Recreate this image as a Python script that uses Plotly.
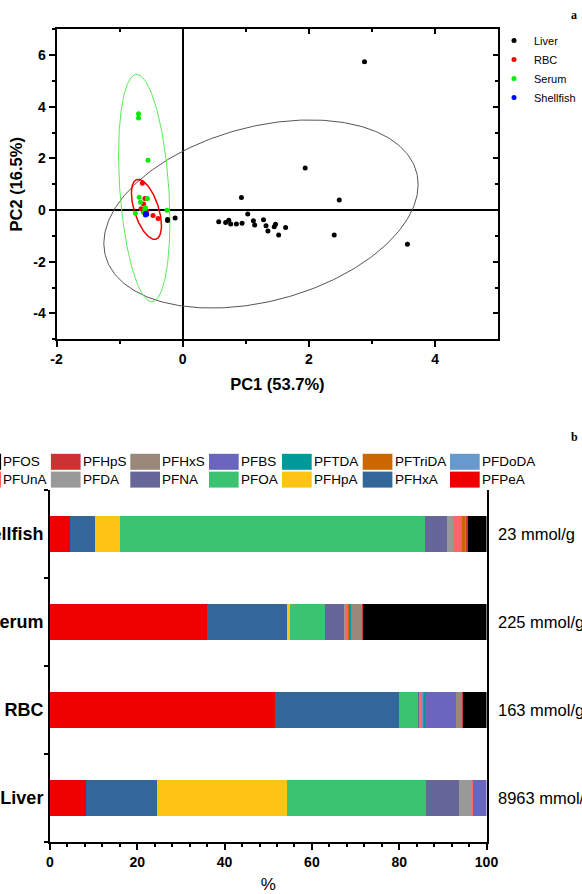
import numpy as np
import plotly.graph_objects as go

W, H = 582, 894
FONT = "Liberation Sans, Arial, sans-serif"

# ---------------- Panel a : PCA scores ----------------
liver_pc1 = [2.88, 1.94, 2.48, 0.93, 2.40, 3.56, 0.57, 0.68, 0.73, 0.76, 0.85, 0.94, 1.03,
             1.12, 1.14, 1.28, 1.32, 1.35, 1.45, 1.47, 1.52, 1.63, -0.24, -0.24, -0.12]
liver_pc2 = [5.74, 1.63, 0.39, 0.49, -0.96, -1.32, -0.45, -0.48, -0.39, -0.54, -0.54, -0.51, -0.15,
             -0.41, -0.58, -0.37, -0.60, -0.81, -0.64, -0.55, -0.96, -0.67, -0.36, -0.40, -0.30]
rbc_pc1 = [-0.64, -0.60, -0.62, -0.66, -0.47, -0.39, -0.62, -0.57]
rbc_pc2 = [1.04, 0.45, 0.24, 0.05, -0.21, -0.32, -0.08, -0.02]
serum_pc1 = [-0.70, -0.70, -0.55, -0.69, -0.56, -0.67, -0.59, -0.75, -0.25, -0.61, -0.60]
serum_pc2 = [3.73, 3.57, 1.93, 0.50, 0.45, 0.31, 0.09, -0.12, 0.00, -0.08, 0.05]
shellfish_pc1 = [-0.59, -0.59, -0.57]
shellfish_pc2 = [-0.19, -0.12, -0.16]

# confidence ellipses: centre x, centre y, half-width (PC1), half-height (PC2), correlation
liver_ellipse = (1.24, -0.15, 2.49, 3.64, 0.313)
rbc_ellipse = (-0.575, 0.03, 0.238, 1.163, -0.54)
serum_ellipse = (-0.61, 0.855, 0.407, 4.40, -0.292)

x_ticks_a = [-2, 0, 2, 4]
y_ticks_a = [-4, -2, 0, 2, 4, 6]

# ---------------- Panel b : composition ----------------
samples = ["Liver", "RBC", "Serum", "Shellfish"]
totals = ["8963 mmol/g", "163 mmol/g", "225 mmol/g", "23 mmol/g"]
compounds = ["PFPeA", "PFHxA", "PFHpA", "PFOA", "PFNA", "PFDA", "PFUnA",
             "PFDoDA", "PFTriDA", "PFTDA", "PFBS", "PFHxS", "PFHpS", "PFOS"]
#           Liver  RBC   Serum Shellfish
PFPeA   = [8.3,  51.5, 35.9, 4.5]
PFHxA   = [16.1, 28.5, 18.3, 5.9]
PFHpA   = [29.8, 0.0,  0.8,  5.6]
PFOA    = [31.9, 4.5,  8.1,  69.9]
PFNA    = [7.7,  0.2,  4.3,  5.1]
PFDA    = [2.9,  0.2,  0.2,  1.4]
PFUnA   = [0.2,  0.4,  0.5,  1.8]
PFDoDA  = [0.0,  0.2,  0.3,  0.3]
PFTriDA = [0.0,  0.4,  0.2,  0.6]
PFTDA   = [0.0,  0.2,  0.3,  0.0]
PFBS    = [3.1,  6.8,  0.0,  0.0]
PFHxS   = [0.0,  1.6,  2.6,  0.4]
PFHpS   = [0.0,  0.2,  0.2,  0.3]
PFOS    = [0.0,  5.3,  28.3, 4.2]
colors = ["#ee0000", "#336699", "#fdc414", "#3cc372", "#666699", "#999999", "#ff6666",
          "#6699cc", "#cc6600", "#009999", "#6b66bd", "#9a8879", "#cc3333", "#000000"]
values = dict(PFPeA=PFPeA, PFHxA=PFHxA, PFHpA=PFHpA, PFOA=PFOA, PFNA=PFNA, PFDA=PFDA,
              PFUnA=PFUnA, PFDoDA=PFDoDA, PFTriDA=PFTriDA, PFTDA=PFTDA, PFBS=PFBS,
              PFHxS=PFHxS, PFHpS=PFHpS, PFOS=PFOS)

# legend layout (row 1 then row 2, Origin style)
legend_rows = [["PFOS", "PFHpS", "PFHxS", "PFBS", "PFTDA", "PFTriDA", "PFDoDA"],
               ["PFUnA", "PFDA", "PFNA", "PFOA", "PFHpA", "PFHxA", "PFPeA"]]
legend_col_px = [-28.6, 50.9, 130.3, 209.0, 282.0, 362.7, 450.0]
legend_row_px = [461.8, 479.6]


def px_x(p):
    return p / W


def px_y(p):
    return 1 - p / H


def ellipse(cx, cy, a, b, r, n=300):
    t = np.linspace(0, 2 * np.pi, n)
    x = cx + a * np.cos(t)
    y = cy + b * (r * np.cos(t) + np.sqrt(1 - r * r) * np.sin(t))
    return x, y


fig = go.Figure()

# ellipses
for par, col, w in [(liver_ellipse, "#555555", 1), (serum_ellipse, "#55ee55", 1),
                    (rbc_ellipse, "#ee0000", 1.5)]:
    ex, ey = ellipse(*par)
    fig.add_trace(go.Scatter(x=ex, y=ey, mode="lines", line=dict(color=col, width=w),
                             showlegend=False, hoverinfo="skip", xaxis="x", yaxis="y"))

for name, xs, ys, col in [("Liver", liver_pc1, liver_pc2, "#000000"),
                          ("RBC", rbc_pc1, rbc_pc2, "#ff0000"),
                          ("Serum", serum_pc1, serum_pc2, "#00ee00"),
                          ("Shellfish", shellfish_pc1, shellfish_pc2, "#0000ff")]:
    fig.add_trace(go.Scatter(x=xs, y=ys, mode="markers", name=name,
                             marker=dict(color=col, size=5), xaxis="x", yaxis="y"))

# dummy trace to carry the mirrored (inside-tick) axes
fig.add_trace(go.Scatter(x=[], y=[], xaxis="x2", yaxis="y2", showlegend=False))

# stacked bars
for comp, col in zip(compounds, colors):
    fig.add_trace(go.Bar(y=samples, x=values[comp], orientation="h", name=comp,
                         marker=dict(color=col, line=dict(width=0)),
                         showlegend=False, xaxis="x3", yaxis="y3"))

axis_common = dict(showline=True, linecolor="black", linewidth=2, showgrid=False,
                   tickcolor="black", tickwidth=2, automargin=False)

xdom_a = [px_x(56.5), px_x(498.3)]
ydom_a = [px_y(339.3), px_y(29.3)]
xdom_b = [px_x(50), px_x(486.5)]
ydom_b = [px_y(841.7), px_y(490)]

fig.update_layout(
    width=W, height=H, margin=dict(l=0, r=0, t=0, b=0, autoexpand=False),
    paper_bgcolor="white", plot_bgcolor="white", template="none",
    font=dict(family=FONT, color="black"),
    barmode="stack", bargap=0.59,
    xaxis=dict(axis_common, domain=xdom_a, anchor="y", range=[-2, 5],
               tickmode="array", tickvals=x_ticks_a, ticktext=[str(v) for v in x_ticks_a],
               ticks="outside", ticklen=6,
               minor=dict(tickmode="array", tickvals=[-1, 1, 3], ticks="outside",
                          ticklen=3, tickwidth=2, tickcolor="black"),
               zeroline=True, zerolinecolor="black", zerolinewidth=2,
               tickfont=dict(size=14, weight="bold"),
               title=dict(text="PC1 (53.7%)", font=dict(size=16.5, weight="bold"), standoff=12)),
    yaxis=dict(axis_common, domain=ydom_a, anchor="x", range=[-5, 7],
               tickmode="array", tickvals=y_ticks_a, ticktext=[str(v) for v in y_ticks_a],
               ticks="outside", ticklen=6,
               minor=dict(tickmode="array", tickvals=[-5, -3, -1, 1, 3, 5, 7], ticks="outside",
                          ticklen=3, tickwidth=2, tickcolor="black"),
               zeroline=True, zerolinecolor="black", zerolinewidth=2,
               tickfont=dict(size=14, weight="bold"),
               title=dict(text="PC2 (16.5%)", font=dict(size=16.5, weight="bold"), standoff=6)),
    xaxis2=dict(axis_common, overlaying="x", side="top", anchor="y", range=[-2, 5],
                tickmode="array", tickvals=x_ticks_a, ticks="inside", ticklen=5,
                minor=dict(tickmode="array", tickvals=[-1, 1, 3], ticks="inside",
                           ticklen=3, tickwidth=2, tickcolor="black"),
                showticklabels=False, zeroline=False),
    yaxis2=dict(axis_common, overlaying="y", side="right", anchor="x", range=[-5, 7],
                tickmode="array", tickvals=y_ticks_a, ticks="inside", ticklen=5,
                minor=dict(tickmode="array", tickvals=[-5, -3, -1, 1, 3, 5, 7], ticks="inside",
                           ticklen=3, tickwidth=2, tickcolor="black"),
                showticklabels=False, zeroline=False),
    xaxis3=dict(axis_common, domain=xdom_b, anchor="y3", range=[0, 100],
                tickmode="linear", tick0=0, dtick=20, ticks="outside", ticklen=6,
                minor=dict(dtick=4, ticks="outside", ticklen=3, tickwidth=2, tickcolor="black"),
                zeroline=False, tickfont=dict(size=14, weight="bold"),
                title=dict(text="%", font=dict(size=17), standoff=14)),
    yaxis3=dict(axis_common, domain=ydom_b, anchor="x3", type="category",
                categoryorder="array", categoryarray=samples, range=[-0.5, 3.5],
                mirror=True, ticks="outside", tickson="boundaries", ticklen=4,
                ticklabelstandoff=1,
                zeroline=False, tickfont=dict(size=18, weight="bold")),
    legend=dict(x=px_x(494), y=px_y(26), xanchor="left", yanchor="top", traceorder="normal",
                font=dict(size=11), bgcolor="rgba(0,0,0,0)", tracegroupgap=0),
)

# right-hand totals
for s, t in zip(samples, totals):
    fig.add_annotation(x=px_x(496), xref="paper", xanchor="left", y=s, yref="y3",
                       text=t, showarrow=False, font=dict(size=16.5))

# custom composition legend
for r, row in enumerate(legend_rows):
    yc = legend_row_px[r]
    for c, comp in enumerate(row):
        col = colors[compounds.index(comp)]
        x0 = legend_col_px[c]
        fig.add_shape(type="rect", xref="paper", yref="paper",
                      x0=px_x(x0), x1=px_x(x0 + 29.7), y0=px_y(yc + 8), y1=px_y(yc - 8),
                      fillcolor=col, line=dict(width=0))
        fig.add_annotation(x=px_x(x0 + 30.0), y=px_y(yc), xref="paper", yref="paper",
                           xanchor="left", yanchor="middle", text=comp, showarrow=False,
                           font=dict(size=13.5))

# panel letters
for letter, yp in [("a", 15), ("b", 437)]:
    fig.add_annotation(x=px_x(574), y=px_y(yp), xref="paper", yref="paper", text=letter,
                       showarrow=False, xanchor="center", yanchor="middle",
                       font=dict(family="Liberation Serif, Times New Roman, serif",
                                 size=12, weight="bold"))

fig.write_html("out.html")
